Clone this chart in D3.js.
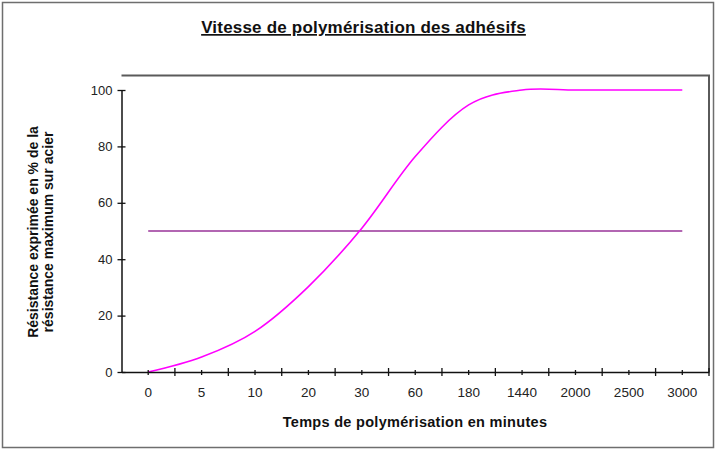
<!DOCTYPE html>
<html><head><meta charset="utf-8">
<script src="https://cdn.jsdelivr.net/npm/d3@7"></script>
<style>body{margin:0;background:#fff}svg{display:block}text{font-family:"Liberation Sans",Arial,sans-serif}</style>
</head><body><div id="chart"></div>
<script>
const categories = ["0","5","10","20","30","60","180","1440","2000","2500","3000"];
const resistance = [0, 5.3, 14.4, 30.3, 51, 76.4, 94.7, 100, 100, 100, 100];
const reference50 = [50,50,50,50,50,50,50,50,50,50,50];
const yTicks = [0,20,40,60,80,100];
const title = "Vitesse de polymérisation des adhésifs";
const xTitle = "Temps de polymérisation en minutes";
const yTitleLines = ["Résistance exprimée en % de la", "résistance maximum sur acier"];

const W = 716, H = 450;
const svg = d3.select("#chart").append("svg").attr("width", W).attr("height", H);
svg.append("rect").attr("x",2.5).attr("y",2.5).attr("width",711).attr("height",445)
  .attr("fill","#fff").attr("stroke","#6e6e6e").attr("stroke-width",1.5);

const plot = {left:121.5, right:709, top:75.5, bottom:372};
const x = d3.scaleBand().domain(categories).range([plot.left, plot.right]).padding(0);
const y = d3.scaleLinear().domain([0,100]).range([plot.bottom, 90]);

// plot area border (top/right)
svg.append("path").attr("d", `M${plot.left},${plot.top}H${plot.right}V${plot.bottom}`)
  .attr("fill","none").attr("stroke","#5a5a5a").attr("stroke-width",2);

const cx = d => x(d) + x.bandwidth()/2;

// series
const line = d3.line().x((d,i)=>cx(categories[i])).y(d=>y(d)).curve(d3.curveCatmullRom.alpha(0));
svg.append("path").datum(reference50).attr("d", line).attr("fill","none")
  .attr("stroke","#993399").attr("stroke-width",1.6);
svg.append("path").datum(resistance).attr("d", line).attr("fill","none")
  .attr("stroke","#ff00ff").attr("stroke-width",1.6);

// y axis
const yAxis = svg.append("g").attr("transform",`translate(${plot.left},0)`)
  .call(d3.axisLeft(y).tickValues(yTicks).tickSize(0).tickPadding(9));
yAxis.select(".domain").attr("stroke","#111").attr("stroke-width",1.5);
yAxis.selectAll(".tick").append("line").attr("x1",-4).attr("x2",4).attr("stroke","#111").attr("stroke-width",1.3);
yAxis.selectAll("text").attr("font-size",13).attr("fill","#222");

// x axis
const xAxis = svg.append("g").attr("transform",`translate(0,${plot.bottom})`)
  .call(d3.axisBottom(x).tickSize(0).tickPadding(15));
xAxis.select(".domain").attr("stroke","#111").attr("stroke-width",1.5);
xAxis.selectAll("text").attr("font-size",13.5).attr("fill","#222");
xAxis.selectAll(".tick").append("line").attr("y1",-2).attr("y2",3).attr("stroke","#111").attr("stroke-width",1.3);
const bounds = categories.map(c=>x(c)).concat([x.range()[1]]).slice(1);
xAxis.selectAll(".bound").data(bounds).enter().append("line")
  .attr("x1",d=>d).attr("x2",d=>d).attr("y1",-4).attr("y2",4).attr("stroke","#111").attr("stroke-width",1.3);

// titles
svg.append("text").attr("x",363.5).attr("y",33).attr("text-anchor","middle")
  .attr("font-size",17).attr("font-weight","bold").attr("fill","#111").attr("letter-spacing",0.2)
  .attr("text-decoration","underline").text(title);
svg.append("text").attr("x",415).attr("y",427).attr("text-anchor","middle")
  .attr("font-size",14.5).attr("font-weight","bold").attr("fill","#111").attr("letter-spacing",0.3).text(xTitle);
const yt = svg.append("text").attr("transform","translate(38,232) rotate(-90)")
  .attr("text-anchor","middle").attr("font-size",14).attr("font-weight","bold").attr("fill","#111");
yTitleLines.forEach((l,i)=>yt.append("tspan").attr("x",0).attr("dy", i===0?0:15).text(l));
</script></body></html>
